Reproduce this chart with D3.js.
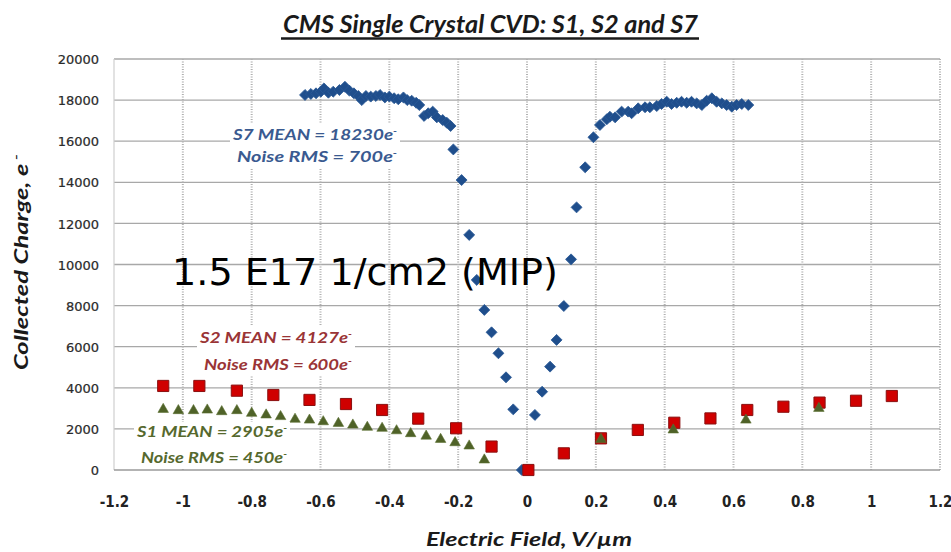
<!DOCTYPE html>
<html><head><meta charset="utf-8">
<script src="https://cdn.jsdelivr.net/npm/d3@7"></script>
<style>html,body{margin:0;padding:0;background:#fff}svg{display:block}</style>
</head><body>
<script>
// ---- data ----
const xTicks = [-1.2,-1,-0.8,-0.6,-0.4,-0.2,0,0.2,0.4,0.6,0.8,1,1.2];
const xTickLabels = ["-1.2","-1","-0.8","-0.6","-0.4","-0.2","0","0.2","0.4","0.6","0.8","1","1.2"];
const yTicks = [0,2000,4000,6000,8000,10000,12000,14000,16000,18000,20000];
const yTickLabels = ["0","2000","4000","6000","8000","10000","12000","14000","16000","18000","20000"];

const s7X = [-0.645,-0.628,-0.613,-0.599,-0.590,-0.577,-0.563,-0.545,-0.529,-0.516,-0.503,-0.490,-0.480,-0.468,-0.454,-0.439,-0.427,-0.413,-0.400,-0.386,-0.374,-0.359,-0.348,-0.335,-0.322,-0.313,-0.299,-0.287,-0.274,-0.262,-0.245,-0.233,-0.222,
  -0.214,-0.190,-0.168,-0.146,-0.124,-0.103,-0.083,-0.061,-0.040,-0.015,
  0.023,0.044,0.067,0.086,0.107,0.128,0.144,0.169,0.193,0.212,
  0.232,0.241,0.256,0.275,0.294,0.304,0.323,0.343,0.357,0.377,0.391,0.406,0.420,0.435,0.449,0.464,0.478,0.493,0.508,0.522,0.537,0.551,0.566,0.580,0.595,0.609,0.624,0.643];
const s7Y = [18250,18300,18330,18410,18570,18360,18410,18490,18650,18460,18330,18200,18000,18200,18170,18200,18250,18130,18170,18090,18040,18130,18000,17970,17870,17760,17230,17360,17440,17160,17030,16900,16740,
  15600,14110,11440,9250,7790,6700,5680,4510,2950,0,
  2680,3810,5030,6330,7980,10250,12780,14730,16190,16790,
  17070,17190,17160,17440,17440,17360,17600,17650,17650,17710,17810,17920,17810,17870,17920,17870,17920,17840,17760,17970,18090,17920,17840,17760,17680,17760,17810,17760];

const s2X = [-1.057,-0.952,-0.843,-0.737,-0.632,-0.526,-0.421,-0.316,-0.206,-0.103,0.004,0.107,0.215,0.322,0.428,0.533,0.640,0.745,0.850,0.956,1.060];
const s2Y = [4090,4090,3860,3650,3410,3210,2920,2500,2030,1140,0,810,1540,1950,2300,2510,2920,3080,3280,3370,3600];

const s1X = [-1.057,-1.013,-0.969,-0.929,-0.887,-0.843,-0.800,-0.758,-0.716,-0.674,-0.632,-0.592,-0.548,-0.506,-0.464,-0.421,-0.379,-0.338,-0.293,-0.251,-0.209,-0.168,-0.124,0.215,0.425,0.636,0.848];
const s1Y = [2950,2890,2890,2920,2840,2890,2760,2680,2600,2470,2430,2350,2270,2190,2080,2030,1910,1770,1650,1490,1330,1170,490,1490,1950,2430,3000];

const titleText = "CMS Single Crystal CVD: S1, S2 and S7";
const xTitle = "Electric Field, V/\u00b5m";
const yTitle = "Collected Charge, e";
const mipText = "1.5 E17 1/cm2 (MIP)";
const s7Labels = ["S7  MEAN = 18230e", "Noise RMS = 700e"];
const s2Labels = ["S2 MEAN = 4127e", "Noise RMS = 600e"];
const s1Labels = ["S1 MEAN = 2905e", "Noise RMS = 450e"];

// ---- chart ----
const W = 951, H = 552;
const svg = d3.select("body").append("svg").attr("width", W).attr("height", H);
const x = d3.scaleLinear().domain([-1.2, 1.2]).range([114, 940]);
const y = d3.scaleLinear().domain([0, 20000]).range([470, 59]);

// gridlines
svg.append("g").selectAll("line").data(yTicks.filter(d => d > 0)).join("line")
  .attr("x1", x(-1.2)).attr("x2", x(1.2))
  .attr("y1", d => y(d)).attr("y2", d => y(d))
  .attr("stroke", "#a8a8a8").attr("stroke-width", 1.3);
svg.append("g").selectAll("line").data(xTicks.filter(d => d > -1.2)).join("line")
  .attr("x1", d => x(d)).attr("x2", d => x(d))
  .attr("y1", y(20000)).attr("y2", y(0))
  .attr("stroke", "#b0b0b0").attr("stroke-width", 2).attr("stroke-dasharray", "1,1.5");
// left axis line & bottom axis line
svg.append("line").attr("x1", x(-1.2)).attr("x2", x(-1.2)).attr("y1", y(20000)).attr("y2", y(0))
  .attr("stroke", "#cfcfcf").attr("stroke-width", 1.2);
svg.append("line").attr("x1", x(-1.2)).attr("x2", x(1.2)).attr("y1", y(0)).attr("y2", y(0))
  .attr("stroke", "#9a9a9a").attr("stroke-width", 1.6);

// axes labels via d3 axes
const yAxis = svg.append("g").attr("transform", `translate(${x(-1.2) - 15},0)`)
  .call(d3.axisLeft(y).tickValues(yTicks).tickSize(0).tickFormat((d, i) => yTickLabels[i]));
yAxis.select(".domain").remove();
yAxis.selectAll("text").attr("font-family", "DejaVu Sans").attr("font-size", 13).attr("fill", "#2a2a2a")
  .attr("stroke", "#2a2a2a").attr("stroke-width", 0.2).attr("x", 0).attr("dy", "0.36em");

const xAxis = svg.append("g").attr("transform", `translate(0,${y(0) + 32})`)
  .call(d3.axisBottom(x).tickValues(xTicks).tickSize(0).tickFormat((d, i) => xTickLabels[i]));
xAxis.select(".domain").remove();
xAxis.selectAll("text").attr("font-family", "'Liberation Sans Narrow','DejaVu Sans Condensed','Liberation Sans'")
  .attr("font-weight", "bold").attr("font-size", 15).attr("fill", "#222").attr("y", 0).attr("dy", "0.36em");

// series
const pts = (xs, ys) => xs.map((v, i) => [v, ys[i]]);
svg.append("g").selectAll("path").data(pts(s7X, s7Y)).join("path")
  .attr("d", d3.symbol(d3.symbolSquare, 60)())
  .attr("transform", d => `translate(${x(d[0])},${y(d[1])}) rotate(45)`)
  .attr("fill", "#1f4e8c").attr("stroke", "#2a5a96").attr("stroke-width", 0.8);
svg.append("g").selectAll("path").data(pts(s2X, s2Y)).join("path")
  .attr("d", d3.symbol(d3.symbolSquare, 125)())
  .attr("transform", d => `translate(${x(d[0])},${y(d[1])})`)
  .attr("fill", "#d00000").attr("stroke", "#8a1010").attr("stroke-width", 1);
svg.append("g").selectAll("path").data(pts(s1X, s1Y)).join("path")
  .attr("d", d3.symbol(d3.symbolTriangle, 48)())
  .attr("transform", d => `translate(${x(d[0])},${y(d[1])})`)
  .attr("fill", "#4f6228").attr("stroke", "#5a6e30").attr("stroke-width", 0.6);

// helper
function fit(t, w) { t.attr("textLength", w).attr("lengthAdjust", "spacingAndGlyphs"); return t; }

// MIP annotation
fit(svg.append("text").attr("x", 172).attr("y", 285).attr("font-family", "DejaVu Sans")
  .attr("font-size", 38).attr("fill", "#000").text(mipText), 386);

// series labels with white boxes
function labelBox(lines, x0, x1, yc, color, boxTop, boxBot) {
  svg.append("rect").attr("x", x0 - 3).attr("y", boxTop).attr("width", x1 - x0 + 6).attr("height", boxBot - boxTop).attr("fill", "#fff");
  lines.forEach((s, i) => {
    const t = svg.append("text").attr("x", x0 + (i ? 4 : 0)).attr("y", yc[i] + 5)
      .attr("font-family", "Lato").attr("font-style", "italic").attr("font-weight", "bold")
      .attr("font-size", 15).attr("fill", color);
    t.append("tspan").text(s);
    t.append("tspan").attr("dy", -6).attr("font-size", 9).text("-");
    fit(t, x1 - x0 - (i ? 4 : 0));
  });
}
labelBox(s7Labels, 233, 397, [135, 157], "#3a5a90", 124, 168);
labelBox(s2Labels, 200, 352, [338, 365], "#9a3436", 326, 376);
labelBox(s1Labels, 137, 287, [432, 458], "#56692e", 422, 468);

// title
fit(svg.append("text").attr("x", 283).attr("y", 33).attr("font-family", "Lato").attr("font-style", "italic")
  .attr("font-weight", "bold").attr("font-size", 24).attr("fill", "#1a1a1a").text(titleText), 415);
svg.append("line").attr("x1", 281).attr("x2", 699).attr("y1", 38.5).attr("y2", 38.5).attr("stroke", "#1a1a1a").attr("stroke-width", 2.4);

// x title
fit(svg.append("text").attr("x", 426).attr("y", 546).attr("font-family", "Lato").attr("font-style", "italic")
  .attr("font-weight", "bold").attr("font-size", 19).attr("fill", "#1a1a1a").text(xTitle), 206);

// y title
const yt = svg.append("text").attr("transform", "translate(28,370) rotate(-90)")
  .attr("font-family", "Lato").attr("font-style", "italic").attr("font-weight", "bold")
  .attr("font-size", 18).attr("fill", "#1a1a1a");
yt.append("tspan").text(yTitle);
yt.append("tspan").attr("dy", -8).attr("font-size", 12).text(" -");
fit(yt, 216);
</script>
</body></html>
